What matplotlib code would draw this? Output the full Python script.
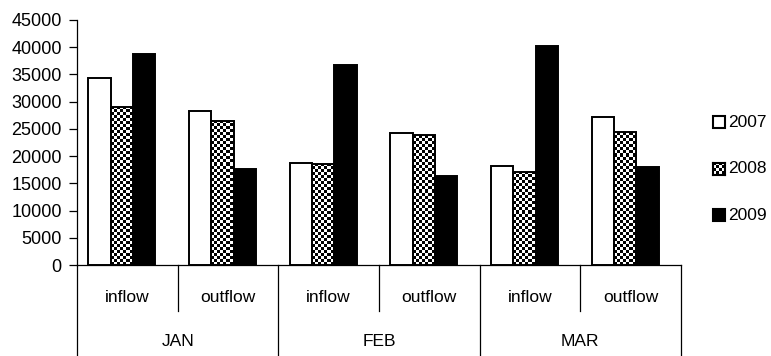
import numpy as np
import matplotlib
matplotlib.use("Agg")
import matplotlib.pyplot as plt
from matplotlib.patches import Rectangle
import matplotlib.transforms as mtransforms
from matplotlib import font_manager

plt.rcParams['font.family'] = ['Liberation Sans', 'DejaVu Sans']
_names = {f.name for f in font_manager.fontManager.ttflist}
HAS_NARROW = 'Liberation Sans Narrow' in _names
cat_family = ['Liberation Sans Narrow', 'Liberation Sans'] if HAS_NARROW else ['Liberation Sans']
cat_size = 14.5 if HAS_NARROW else 12.5

# ---- data ----
months = ["JAN", "FEB", "MAR"]
flows = ["inflow", "outflow"]
years = ["2007", "2008", "2009"]
v2007 = [34400, 28200, 18800, 24300, 18100, 27100]
v2008 = [29000, 26500, 18500, 23900, 17100, 24500]
v2009 = [38700, 17700, 36800, 16300, 40200, 18000]
yticks = [0, 5000, 10000, 15000, 20000, 25000, 30000, 35000, 40000, 45000]

W, H = 771, 356
fig = plt.figure(figsize=(W / 100, H / 100), dpi=100)
ax_left, ax_right, ax_top, ax_bot = 77, 681, 20, 265
ax = fig.add_axes([ax_left / W, 1 - ax_bot / H, (ax_right - ax_left) / W, (ax_bot - ax_top) / H])

ncat = len(flows) * len(months)
x = np.arange(ncat)
bw = 0.222
off = -0.055
series = [v2007, v2008, v2009]
fc = ["white", "white", "black"]

ax.set_xlim(-0.5, ncat - 0.5)
ax.set_ylim(0, 45000)

px_x = (ax_right - ax_left) / ncat          # px per x unit
px_y = (ax_bot - ax_top) / 45000.0          # px per y unit
cell = 3.0

for k, vals in enumerate(series):
    pos = x + off + (k - 1) * bw
    if k == 1:
        bars = ax.bar(pos, vals, width=bw, facecolor="none", edgecolor="black",
                      linewidth=1.4, zorder=3)
        for b in bars:
            x0, w, h = b.get_x(), b.get_width(), b.get_height()
            nx = int(np.ceil(w * px_x / cell)) + 1
            ny = int(np.ceil(h * px_y / cell)) + 1
            chk = (np.indices((ny, nx)).sum(axis=0) % 2).astype(float)
            cx = cell / px_x
            cy = cell / px_y
            im = ax.imshow(chk, cmap="gray", vmin=0, vmax=1, interpolation="nearest",
                           extent=(x0, x0 + nx * cx, 0, ny * cy), origin="lower",
                           aspect="auto", zorder=2)
            im.set_clip_path(b)
    else:
        ax.bar(pos, vals, width=bw, facecolor=fc[k], edgecolor="black",
               linewidth=1.4, zorder=3)

ax.set_xlim(-0.5, ncat - 0.5)
ax.set_ylim(0, 45000)

# spines / ticks
for s in ["top", "right"]:
    ax.spines[s].set_visible(False)
ax.spines["left"].set_linewidth(0.9)
ax.spines["bottom"].set_linewidth(0.9)
ax.set_yticks(yticks)
ax.set_yticklabels([str(v) for v in yticks])
ax.tick_params(axis="y", direction="out", length=6, width=0.9, pad=5, labelsize=13)
ax.set_xticks([])

# hierarchical category axis
trans = mtransforms.blended_transform_factory(ax.transData, ax.transAxes)
hpx = ax_bot - ax_top
def yfrac(ypix):
    return (ax_bot - ypix) / hpx

for b in np.arange(-0.5, ncat, 2):
    ax.plot([b, b], [0, yfrac(356)], transform=trans, color="black", lw=0.9, clip_on=False)
for b in np.arange(0.5, ncat, 2):
    ax.plot([b, b], [0, yfrac(311)], transform=trans, color="black", lw=0.9, clip_on=False)
for i in range(ncat):
    ax.text(x[i], yfrac(297), flows[i % 2], transform=trans, ha="center", va="center",
            fontsize=cat_size, family=cat_family)
for m, name in enumerate(months):
    ax.text(2 * m + 0.5, yfrac(341), name, transform=trans, ha="center", va="center",
            fontsize=cat_size, family=cat_family)

# legend (manual)
leg_y = [122, 168.5, 215]
sq = 12
for k, yy in enumerate(leg_y):
    lx = 713
    if k == 1:
        lax = fig.add_axes([lx / W, 1 - (yy + sq / 2) / H, sq / W, sq / H])
        chk = (np.indices((4, 4)).sum(axis=0) % 2).astype(float)
        lax.imshow(chk, cmap="gray", vmin=0, vmax=1, interpolation="nearest", aspect="auto")
        lax.set_xticks([]); lax.set_yticks([])
        for s in lax.spines.values():
            s.set_linewidth(1.5)
    else:
        fig.patches.append(Rectangle((lx / W, 1 - (yy + sq / 2) / H), sq / W, sq / H,
                                     transform=fig.transFigure, facecolor=fc[k],
                                     edgecolor="black", linewidth=1.5))
    fig.text((lx + sq + 3) / W, 1 - yy / H, years[k], ha="left", va="center",
             fontsize=cat_size, family=cat_family)

fig.savefig("out.png", dpi=100)
